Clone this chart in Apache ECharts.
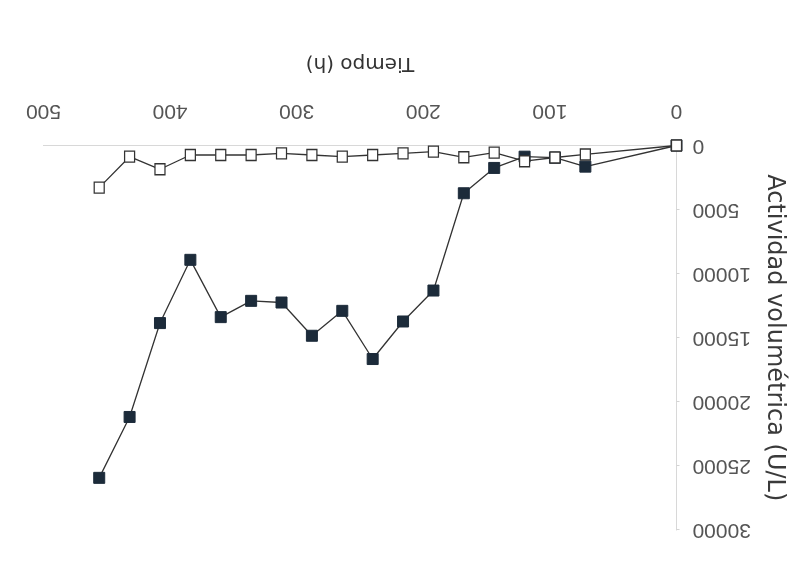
<!DOCTYPE html>
<html>
<head>
<meta charset="utf-8">
<script src="https://cdn.jsdelivr.net/npm/echarts@6/dist/echarts.min.js"></script>
<style>
  html, body { margin: 0; padding: 0; background: #ffffff; }
  #chart { width: 808px; height: 569px; transform: rotate(180deg); }
</style>
</head>
<body>
<div id="chart"></div>
<script>
// Sampling times (h)
const tiempo = [0, 72, 96, 120, 144, 168, 192, 216, 240, 264, 288, 312, 336, 360, 384, 408, 432, 456];
// Volumetric activity (U/L), filled-square series
const actividadA = [0, 1650, 950, 870, 1750, 3725, 11315, 13730, 16660, 12900, 14845, 12250, 12120, 13390, 8920, 13855, 21180, 25930];
// Volumetric activity (U/L), open-square series
const actividadB = [0, 700, 935, 1225, 560, 920, 480, 610, 740, 870, 740, 610, 740, 740, 740, 1855, 873, 3290];

const xTicks = { min: 0, max: 500, interval: 100 };
const yTicks = { min: 0, max: 30000, interval: 5000 };

const pairs = (xs, ys) => xs.map((x, i) => [x, ys[i]]);

const numFont = '"Liberation Sans", Arial, sans-serif';
const nameFont = '"DejaVu Sans", sans-serif';
const faint = { show: true, lineStyle: { color: '#d4d4d4', type: 'dotted', width: 1 } };

const chart = echarts.init(document.getElementById('chart'), null, { renderer: 'canvas' });
chart.setOption({
  backgroundColor: '#ffffff',
  animation: false,
  grid: { left: 131.5, right: 43.5, top: 39, bottom: 145.5, containLabel: false },
  xAxis: {
    type: 'value',
    min: xTicks.min, max: xTicks.max, interval: xTicks.interval,
    name: 'Tiempo (h)',
    nameLocation: 'middle',
    nameGap: 72,
    nameTextStyle: { fontFamily: nameFont, fontSize: 20, color: '#333333' },
    axisLine: faint,
    axisTick: { show: false },
    splitLine: { show: false },
    axisLabel: { margin: 24, fontFamily: numFont, fontSize: 21, color: '#555555' }
  },
  yAxis: {
    type: 'value',
    min: yTicks.min, max: yTicks.max, interval: yTicks.interval,
    name: 'Actividad volumétrica (U/L)',
    nameLocation: 'middle',
    nameGap: 59,
    nameTextStyle: { fontFamily: nameFont, fontSize: 24, color: '#3a3a3a' },
    axisLine: faint,
    axisTick: { show: true, length: 3, lineStyle: { color: '#d4d4d4' } },
    splitLine: { show: false },
    axisLabel: {
      margin: 16, fontFamily: numFont, fontSize: 21, color: '#555555',
      formatter: v => String(v)
    }
  },
  series: [
    {
      type: 'line',
      data: pairs(tiempo, actividadA),
      symbol: 'rect',
      symbolSize: [11, 11],
      z: 2,
      lineStyle: { color: '#333333', width: 1.3 },
      itemStyle: { color: '#1c2b3a', borderColor: '#1c2b3a', borderWidth: 1 }
    },
    {
      type: 'line',
      data: pairs(tiempo, actividadB),
      symbol: 'rect',
      symbolSize: [10, 11],
      z: 3,
      lineStyle: { color: '#333333', width: 1.3 },
      itemStyle: { color: '#ffffff', borderColor: '#333333', borderWidth: 1.3 }
    }
  ]
});
</script>
</body>
</html>
